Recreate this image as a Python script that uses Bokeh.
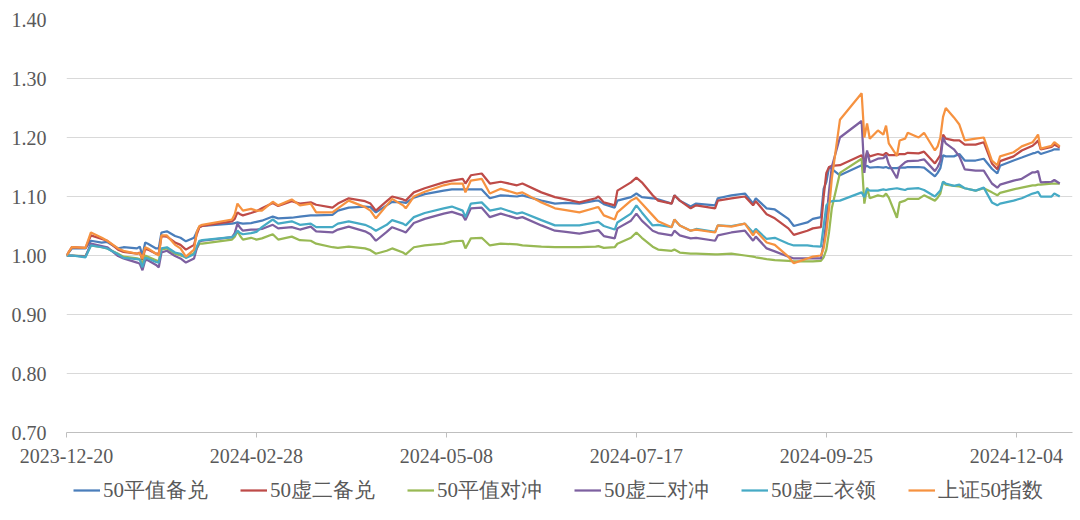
import pandas as pd
from bokeh.plotting import figure
from bokeh.layouts import column
from bokeh.models import (FixedTicker, DatetimeTickFormatter, Range1d, Legend, LegendItem,
                          NumeralTickFormatter, ColumnDataSource)
from bokeh.embed import file_html
from bokeh.resources import INLINE

dates = ["2023-12-20","2023-12-22","2023-12-27","2023-12-29","2024-01-02","2024-01-04","2024-01-08","2024-01-10",
         "2024-01-15","2024-01-16","2024-01-17","2024-01-18","2024-01-19","2024-01-22","2024-01-23","2024-01-24",
         "2024-01-26","2024-01-29","2024-01-31","2024-02-02","2024-02-05","2024-02-06","2024-02-07","2024-02-08",
         "2024-02-19","2024-02-20","2024-02-21","2024-02-22","2024-02-23","2024-02-26","2024-02-28","2024-03-01",
         "2024-03-05","2024-03-07","2024-03-12","2024-03-15","2024-03-19","2024-03-21","2024-03-27","2024-03-29",
         "2024-04-02","2024-04-08","2024-04-10","2024-04-12","2024-04-16","2024-04-18","2024-04-22","2024-04-23",
         "2024-04-26","2024-04-30","2024-05-07","2024-05-10","2024-05-14","2024-05-15","2024-05-17","2024-05-21",
         "2024-05-24","2024-05-28","2024-06-03","2024-06-05","2024-06-12","2024-06-17","2024-06-21","2024-06-26",
         "2024-07-02","2024-07-03","2024-07-05","2024-07-09","2024-07-10","2024-07-15","2024-07-17","2024-07-19",
         "2024-07-23","2024-07-25","2024-07-30","2024-07-31","2024-08-02","2024-08-06","2024-08-08","2024-08-15",
         "2024-08-16","2024-08-21","2024-08-26","2024-08-29","2024-08-30","2024-09-03","2024-09-06","2024-09-11",
         "2024-09-13","2024-09-18","2024-09-20","2024-09-23","2024-09-24","2024-09-25","2024-09-26","2024-09-27",
         "2024-09-30","2024-10-08","2024-10-09","2024-10-10","2024-10-11","2024-10-14","2024-10-16","2024-10-17",
         "2024-10-18","2024-10-21","2024-10-22","2024-10-24","2024-10-25","2024-10-29","2024-10-31","2024-11-04",
         "2024-11-05","2024-11-06","2024-11-07","2024-11-08","2024-11-11","2024-11-13","2024-11-15","2024-11-19",
         "2024-11-22","2024-11-25","2024-11-27","2024-11-28","2024-12-03","2024-12-06","2024-12-10","2024-12-11",
         "2024-12-12","2024-12-13","2024-12-17","2024-12-18","2024-12-20"]

atm_covered = [1.000,1.012,1.012,1.025,1.022,1.023,1.012,1.014,1.012,1.015,1.000,1.022,1.020,1.012,1.012,1.039,
               1.041,1.033,1.030,1.024,1.030,1.040,1.049,1.050,1.054,1.055,1.056,1.055,1.054,1.055,1.057,1.059,
               1.066,1.063,1.064,1.066,1.068,1.068,1.069,1.076,1.081,1.083,1.082,1.073,1.085,1.091,1.090,1.089,
               1.098,1.104,1.110,1.112,1.112,1.112,1.112,1.112,1.097,1.102,1.100,1.102,1.093,1.088,1.089,1.088,
               1.093,1.093,1.087,1.081,1.093,1.099,1.105,1.099,1.097,1.095,1.088,1.102,1.093,1.083,1.088,1.085,
               1.097,1.102,1.105,1.088,1.097,1.080,1.078,1.062,1.050,1.056,1.062,1.065,1.113,1.125,1.150,1.147,
               1.136,1.153,1.150,1.152,1.149,1.150,1.149,1.150,1.148,1.148,1.149,1.149,1.150,1.150,1.149,1.134,
               1.140,1.148,1.170,1.168,1.168,1.172,1.161,1.161,1.164,1.147,1.139,1.152,1.161,1.166,1.173,1.174,
               1.176,1.172,1.178,1.180,1.180]

otm2_covered = [1.000,1.014,1.013,1.034,1.028,1.025,1.010,1.006,1.003,1.005,0.992,1.012,1.010,1.003,1.003,1.033,
                1.032,1.022,1.018,1.010,1.018,1.036,1.048,1.050,1.058,1.062,1.073,1.070,1.068,1.072,1.075,1.080,
                1.089,1.084,1.092,1.088,1.090,1.086,1.081,1.088,1.097,1.092,1.088,1.076,1.092,1.100,1.095,1.093,
                1.107,1.114,1.124,1.127,1.130,1.122,1.136,1.139,1.122,1.125,1.119,1.122,1.107,1.099,1.095,1.090,
                1.097,1.100,1.090,1.085,1.110,1.124,1.132,1.124,1.102,1.093,1.088,1.102,1.093,1.080,1.085,1.080,
                1.093,1.097,1.100,1.085,1.092,1.070,1.063,1.046,1.035,1.042,1.046,1.048,1.100,1.140,1.150,1.152,
                1.153,1.170,1.160,1.175,1.168,1.172,1.170,1.174,1.170,1.170,1.172,1.172,1.174,1.173,1.176,1.156,
                1.163,1.170,1.205,1.198,1.195,1.195,1.188,1.188,1.192,1.156,1.146,1.160,1.168,1.178,1.186,1.190,
                1.195,1.180,1.184,1.188,1.183]

atm_hedge = [1.000,1.000,0.999,1.017,1.014,1.012,1.003,0.998,0.995,0.994,0.985,1.000,0.998,0.992,0.990,1.010,
             1.012,1.003,1.000,0.997,1.004,1.012,1.020,1.020,1.027,1.032,1.041,1.033,1.027,1.030,1.027,1.029,
             1.036,1.027,1.032,1.026,1.025,1.020,1.014,1.013,1.015,1.012,1.009,1.003,1.008,1.012,1.005,1.002,
             1.014,1.017,1.020,1.024,1.025,1.012,1.029,1.030,1.017,1.020,1.019,1.017,1.015,1.014,1.014,1.014,
             1.015,1.016,1.013,1.014,1.020,1.030,1.039,1.030,1.015,1.010,1.008,1.010,1.005,1.003,1.003,1.002,
             1.002,1.003,1.000,0.998,0.997,0.994,0.992,0.991,0.990,0.990,0.990,0.991,0.997,1.010,1.040,1.080,
             1.140,1.164,1.088,1.115,1.097,1.102,1.100,1.105,1.098,1.064,1.090,1.093,1.096,1.096,1.102,1.093,
             1.098,1.105,1.125,1.120,1.118,1.117,1.114,1.110,1.114,1.107,1.102,1.106,1.112,1.115,1.119,1.119,
             1.120,1.120,1.122,1.122,1.122]

otm2_hedge = [1.000,1.000,0.998,1.020,1.016,1.014,0.999,0.995,0.988,0.986,0.975,0.992,0.992,0.984,0.980,1.005,
              1.008,0.999,0.995,0.988,0.995,1.012,1.024,1.025,1.031,1.038,1.054,1.047,1.042,1.044,1.044,1.045,
              1.052,1.046,1.048,1.044,1.049,1.041,1.039,1.044,1.049,1.041,1.036,1.025,1.040,1.048,1.041,1.039,
              1.055,1.062,1.071,1.074,1.068,1.060,1.080,1.081,1.065,1.071,1.063,1.065,1.051,1.042,1.040,1.037,
              1.042,1.043,1.033,1.029,1.046,1.059,1.071,1.059,1.042,1.038,1.034,1.042,1.034,1.029,1.030,1.025,
              1.034,1.039,1.042,1.025,1.032,1.012,1.007,0.998,0.995,0.995,0.995,0.995,1.020,1.060,1.110,1.150,
              1.200,1.228,1.140,1.178,1.158,1.164,1.165,1.170,1.155,1.131,1.150,1.158,1.160,1.161,1.163,1.143,
              1.150,1.160,1.200,1.190,1.180,1.168,1.146,1.144,1.144,1.122,1.115,1.120,1.127,1.130,1.141,1.141,
              1.143,1.124,1.125,1.128,1.122]

otm2_collar = [1.000,1.000,0.997,1.017,1.014,1.012,1.002,0.996,0.994,0.993,0.980,0.996,0.995,0.989,0.988,1.012,
               1.014,1.005,1.003,0.996,1.002,1.015,1.025,1.026,1.031,1.035,1.042,1.038,1.036,1.038,1.040,1.048,
               1.061,1.054,1.058,1.052,1.054,1.048,1.048,1.054,1.058,1.052,1.048,1.042,1.052,1.060,1.054,1.051,
               1.065,1.072,1.080,1.083,1.076,1.065,1.088,1.090,1.076,1.080,1.071,1.073,1.060,1.051,1.051,1.051,
               1.056,1.057,1.050,1.044,1.056,1.071,1.085,1.073,1.051,1.052,1.048,1.061,1.051,1.042,1.045,1.040,
               1.051,1.050,1.054,1.039,1.045,1.028,1.030,1.020,1.017,1.017,1.016,1.015,1.050,1.085,1.090,1.092,
               1.093,1.107,1.099,1.113,1.110,1.110,1.112,1.111,1.112,1.114,1.113,1.111,1.113,1.114,1.111,1.100,
               1.105,1.110,1.125,1.122,1.118,1.120,1.114,1.110,1.115,1.090,1.085,1.088,1.093,1.097,1.105,1.106,
               1.108,1.100,1.100,1.105,1.100]

sse50 = [1.000,1.014,1.013,1.039,1.030,1.025,1.012,1.008,1.003,1.004,0.995,1.014,1.012,1.003,1.000,1.034,
         1.034,1.018,1.012,0.998,1.010,1.040,1.050,1.052,1.061,1.070,1.088,1.082,1.076,1.079,1.076,1.076,
         1.091,1.085,1.095,1.085,1.088,1.073,1.073,1.080,1.093,1.082,1.076,1.063,1.085,1.096,1.085,1.080,
         1.100,1.108,1.119,1.122,1.122,1.107,1.127,1.130,1.105,1.113,1.105,1.107,1.090,1.080,1.077,1.073,
         1.081,1.082,1.068,1.061,1.073,1.093,1.098,1.088,1.068,1.058,1.048,1.061,1.051,1.042,1.044,1.039,
         1.051,1.049,1.054,1.034,1.042,1.022,1.018,0.998,0.987,0.995,0.998,1.000,1.012,1.040,1.080,1.130,
         1.230,1.275,1.200,1.224,1.198,1.212,1.205,1.220,1.190,1.169,1.195,1.198,1.208,1.200,1.208,1.178,
         1.185,1.200,1.235,1.250,1.234,1.222,1.195,1.198,1.200,1.161,1.153,1.168,1.175,1.185,1.192,1.198,
         1.205,1.181,1.186,1.192,1.185]

series_names = ["50平值备兑", "50虚二备兑", "50平值对冲", "50虚二对冲", "50虚二衣领", "上证50指数"]
series_colors = ["#4A7EBB", "#BE4B48", "#98B954", "#7D60A0", "#46AAC5", "#F69240"]
tick_dates = ["2023-12-20", "2024-02-28", "2024-05-08", "2024-07-17", "2024-09-25", "2024-12-04"]
y_ticks = [0.70, 0.80, 0.90, 1.00, 1.10, 1.20, 1.30, 1.40]

src = ColumnDataSource(data=dict(
    date=pd.to_datetime(dates),
    s0=atm_covered, s1=otm2_covered, s2=atm_hedge, s3=otm2_hedge, s4=otm2_collar, s5=sse50))

x0 = pd.Timestamp("2023-12-20")
x1 = x0 + pd.Timedelta(days=370.7)

font = "Liberation Serif"
txt_color = "#595959"

p = figure(width=1080, height=472, x_axis_type="datetime", output_backend="svg",
           toolbar_location=None, x_range=Range1d(x0, x1), y_range=Range1d(0.70, 1.40),
           min_border_left=66, min_border_right=8, min_border_top=19, min_border_bottom=40)
p.outline_line_color = None
p.background_fill_color = "white"
p.border_fill_color = "white"

# y axis
p.yaxis.ticker = FixedTicker(ticks=y_ticks)
p.yaxis.formatter = NumeralTickFormatter(format="0.00")
p.yaxis.axis_line_color = None
p.yaxis.major_tick_line_color = None
p.yaxis.minor_tick_line_color = None
p.yaxis.major_label_standoff = 14
p.yaxis.major_label_text_font = font
p.yaxis.major_label_text_font_size = "20px"
p.yaxis.major_label_text_color = txt_color

# x axis
tick_ms = [pd.Timestamp(d).value // 10**6 for d in tick_dates]
p.xaxis.ticker = FixedTicker(ticks=tick_ms)
fmt = "%Y-%m-%d"
p.xaxis.formatter = DatetimeTickFormatter(milliseconds=fmt, seconds=fmt, minsec=fmt, minutes=fmt,
                                          hourmin=fmt, hours=fmt, days=fmt, months=fmt, years=fmt,
                                          context=None)
p.xaxis.axis_line_color = "#BFBFBF"
p.xaxis.axis_line_width = 1
p.xaxis.major_tick_line_color = "#BFBFBF"
p.xaxis.major_tick_out = 5
p.xaxis.major_tick_in = 0
p.xaxis.minor_tick_line_color = None
p.xaxis.major_label_standoff = 11
p.xaxis.major_label_text_font = font
p.xaxis.major_label_text_font_size = "20px"
p.xaxis.major_label_text_color = txt_color

p.xgrid.grid_line_color = None
p.ygrid.ticker = FixedTicker(ticks=y_ticks)
p.ygrid.grid_line_color = "#D9D9D9"
p.ygrid.grid_line_width = 1

for i, color in enumerate(series_colors):
    p.line(x="date", y=f"s{i}", source=src, line_color=color, line_width=2.25)

# legend strip below the chart (its own lines lie outside its visible range)
lg = figure(width=1080, height=48, output_backend="svg", toolbar_location=None,
            x_range=Range1d(0, 1), y_range=Range1d(0, 1),
            min_border_left=0, min_border_right=0, min_border_top=0, min_border_bottom=0,
            x_axis_location=None, y_axis_location=None)
lg.outline_line_color = None
lg.xgrid.visible = False
lg.ygrid.visible = False
lg.background_fill_color = "white"
lg.border_fill_color = "white"

items = []
for i, (name, color) in enumerate(zip(series_names, series_colors)):
    r = lg.line(x="date", y=f"s{i}", source=src, line_color=color, line_width=2.25)
    items.append(LegendItem(label=name, renderers=[r]))

legend = Legend(items=items, orientation="horizontal", location=(7, 16))
legend.border_line_color = None
legend.background_fill_alpha = 0
legend.padding = 0
legend.margin = 0
legend.spacing = 32
legend.glyph_width = 27
legend.glyph_height = 20
legend.label_height = 20
legend.label_standoff = 3
legend.label_text_font = font
legend.label_text_font_size = "21px"
legend.label_text_color = txt_color
lg.add_layout(legend)

layout = column(p, lg, spacing=0)
open("out.html", "w").write(file_html(layout, INLINE))
